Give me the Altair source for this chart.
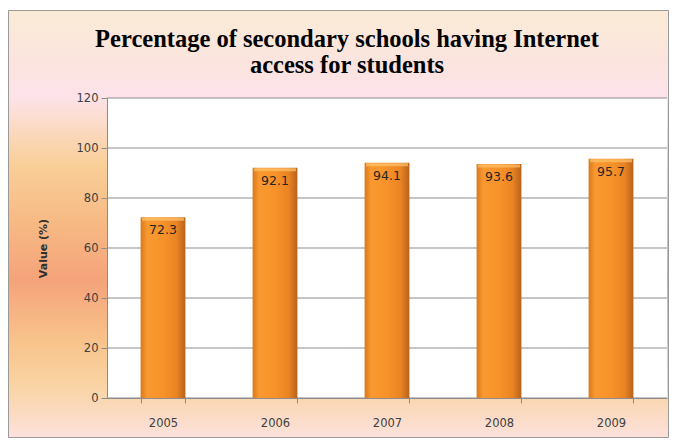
import altair as alt
import pandas as pd

years = ["2005", "2006", "2007", "2008", "2009"]
values = [72.3, 92.1, 94.1, 93.6, 95.7]
y_ticks = [0, 20, 40, 60, 80, 100, 120]
title_line1 = ["Percentage of secondary schools having Internet"]
title_line2 = ["access for students"]

df = pd.DataFrame({"year": years, "value": values})
grid_df = pd.DataFrame({"tick": y_ticks})

W, H = 560, 300
PL, PT, PR, PB = 99, 90, 2, 40

bg = alt.Chart(pd.DataFrame({"a": [0]})).mark_rect(
    color=alt.Gradient(
        gradient="linear", x1=0, y1=0, x2=0, y2=1,
        stops=[
            alt.GradientStop(color="#faebd6", offset=0.0),
            alt.GradientStop(color="#fbe4de", offset=0.12),
            alt.GradientStop(color="#fde3ea", offset=0.2),
            alt.GradientStop(color="#f9cf98", offset=0.36),
            alt.GradientStop(color="#f7b984", offset=0.5),
            alt.GradientStop(color="#f5a37a", offset=0.63),
            alt.GradientStop(color="#f8c48c", offset=0.78),
            alt.GradientStop(color="#f9d4a4", offset=0.88),
            alt.GradientStop(color="#fde1dc", offset=1.0),
        ],
    ),
    stroke="#9a9a9a", strokeWidth=1, clip=False,
).encode(
    x=alt.value(-PL + 0.5), x2=alt.value(W + PR - 0.5),
    y=alt.value(-PT + 2.5), y2=alt.value(H + PB - 0.5),
)

plotbg = alt.Chart(pd.DataFrame({"a": [0]})).mark_rect(color="white").encode(
    x=alt.value(0), x2=alt.value(W), y=alt.value(0), y2=alt.value(H)
)

title_style = dict(font="Liberation Serif", fontSize=24.5, fontWeight="bold",
                   color="#000000", align="center", baseline="alphabetic")
title1 = alt.Chart(pd.DataFrame({"line": title_line1})).mark_text(
    **title_style).encode(text="line:N", x=alt.value(240), y=alt.value(-51))
title2 = alt.Chart(pd.DataFrame({"line": title_line2})).mark_text(
    **title_style).encode(text="line:N", x=alt.value(240), y=alt.value(-25))

yscale = alt.Scale(domain=[0, 120])

grid = alt.Chart(grid_df).mark_rule(color="#8c8c8c", strokeWidth=1).encode(
    y=alt.Y("tick:Q", scale=yscale),
    x=alt.value(0), x2=alt.value(W),
)

base = alt.Chart(df).encode(
    x=alt.X("year:N", sort=years, title=None,
            scale=alt.Scale(paddingInner=0.6, paddingOuter=0.3),
            axis=alt.Axis(labelAngle=0, tickBand="extent", tickSize=5,
                          labelPadding=14, labelFontSize=11.5,
                          labelColor="#404040", domainColor="#8c8c8c",
                          tickColor="#8c8c8c", labelFont="DejaVu Sans",
                          grid=False, zindex=2)),
)

bars = base.mark_bar(
    color=alt.Gradient(
        gradient="linear", x1=0, y1=0, x2=1, y2=0,
        stops=[
            alt.GradientStop(color="#d9781f", offset=0.0),
            alt.GradientStop(color="#f9992f", offset=0.15),
            alt.GradientStop(color="#f8922a", offset=0.5),
            alt.GradientStop(color="#ea8424", offset=0.8),
            alt.GradientStop(color="#b8621a", offset=1.0),
        ],
    ),
).encode(
    y=alt.Y("value:Q", title="Value (%)", scale=yscale,
            axis=alt.Axis(values=y_ticks, tickSize=6, labelPadding=3,
                          labelFontSize=11.5, labelColor="#404040",
                          labelFont="DejaVu Sans", grid=False,
                          domainColor="#8c8c8c",
                          tickColor="#8c8c8c", titleFont="DejaVu Sans",
                          titleFontSize=11, titleFontWeight="bold",
                          titleColor="#303030", titlePadding=28, zindex=2)),
)

caps = base.mark_tick(color="#fdc46c", thickness=3, size=42, yOffset=2).encode(
    y=alt.Y("value:Q", scale=yscale),
)

labels = base.mark_text(baseline="top", dy=7, fontSize=12.5,
                        font="DejaVu Sans", color="#262626").encode(
    y=alt.Y("value:Q", scale=yscale),
    text=alt.Text("value:Q", format=".1f"),
)

chart = alt.layer(bg, plotbg, grid, bars, caps, labels, title1, title2).properties(
    width=W, height=H,
    padding={"left": PL, "top": PT, "right": PR, "bottom": PB},
    autosize=alt.AutoSizeParams(type="none"),
).configure_view(stroke=None)

chart.save("out.html", embed_options={"renderer": "svg", "actions": False})
